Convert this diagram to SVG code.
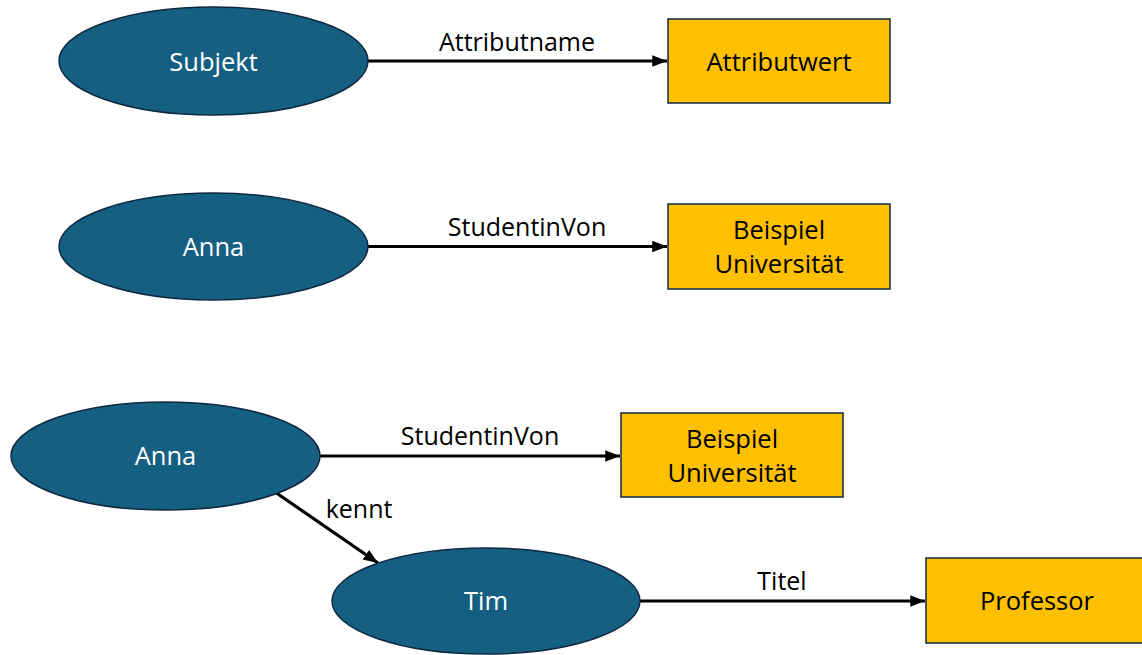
<svg xmlns="http://www.w3.org/2000/svg" width="1142" height="655" viewBox="0 0 1142 655">
<style>
.ell{fill:#156082;stroke:#0E2841;stroke-width:1.5}
.box{fill:#FFC000;stroke:#0E2841;stroke-width:1.5}
.wt{font-family:"Open Sans","Liberation Sans",sans-serif;font-size:25.5px;fill:#FFFFFF;text-anchor:middle}
.bt{font-family:"Open Sans","Liberation Sans",sans-serif;font-size:25.5px;fill:#000000;text-anchor:middle}
.lbl{font-family:"Open Sans","Liberation Sans",sans-serif;font-size:25px;fill:#000000;text-anchor:middle}
.edge{stroke:#000000;stroke-width:3.2;fill:none;marker-end:url(#arr)}
</style>
<defs>
<marker id="arr" markerWidth="5" markerHeight="5" refX="4.6" refY="2.5" orient="auto" markerUnits="strokeWidth">
<path d="M0,0.7 L4.6,2.5 L0,4.3 Z" fill="#000000"/>
</marker>
</defs>
<g id="connectors">
<line class="edge" x1="368" y1="61" x2="667" y2="61"/>
<line class="edge" x1="368" y1="246.5" x2="667" y2="246.5"/>
<line class="edge" x1="320" y1="456" x2="620" y2="456"/>
<line class="edge" x1="275" y1="492" x2="378" y2="563"/>
<line class="edge" x1="640" y1="601" x2="925" y2="601"/>
<text class="lbl" x="517" y="51">Attributname</text>
<text class="lbl" x="527" y="236">StudentinVon</text>
<text class="lbl" x="480" y="445">StudentinVon</text>
<text class="lbl" x="359" y="518">kennt</text>
<text class="lbl" x="782" y="590">Titel</text>
</g>
<g id="subjekt">
<ellipse class="ell" cx="213.5" cy="61" rx="154.5" ry="54"/>
<text class="wt" x="213.5" y="71">Subjekt</text>
</g>
<g id="attributwert">
<rect class="box" x="668" y="19" width="222" height="84"/>
<text class="bt" x="779" y="71">Attributwert</text>
</g>
<g id="anna1">
<ellipse class="ell" cx="213.5" cy="246.5" rx="154.5" ry="53.5"/>
<text class="wt" x="213.5" y="256">Anna</text>
</g>
<g id="uni1">
<rect class="box" x="668" y="204" width="222" height="85"/>
<text class="bt" x="779" y="239">Beispiel</text>
<text class="bt" x="779" y="273">Universität</text>
</g>
<g id="anna2">
<ellipse class="ell" cx="165.5" cy="456" rx="154.5" ry="54"/>
<text class="wt" x="165.5" y="465">Anna</text>
</g>
<g id="uni2">
<rect class="box" x="621" y="413" width="222" height="84"/>
<text class="bt" x="732" y="448">Beispiel</text>
<text class="bt" x="732" y="482">Universität</text>
</g>
<g id="tim">
<ellipse class="ell" cx="486" cy="601" rx="154" ry="53"/>
<text class="wt" x="486" y="610">Tim</text>
</g>
<g id="professor">
<rect class="box" x="926" y="558" width="222" height="85"/>
<text class="bt" x="1037" y="610">Professor</text>
</g>
</svg>
